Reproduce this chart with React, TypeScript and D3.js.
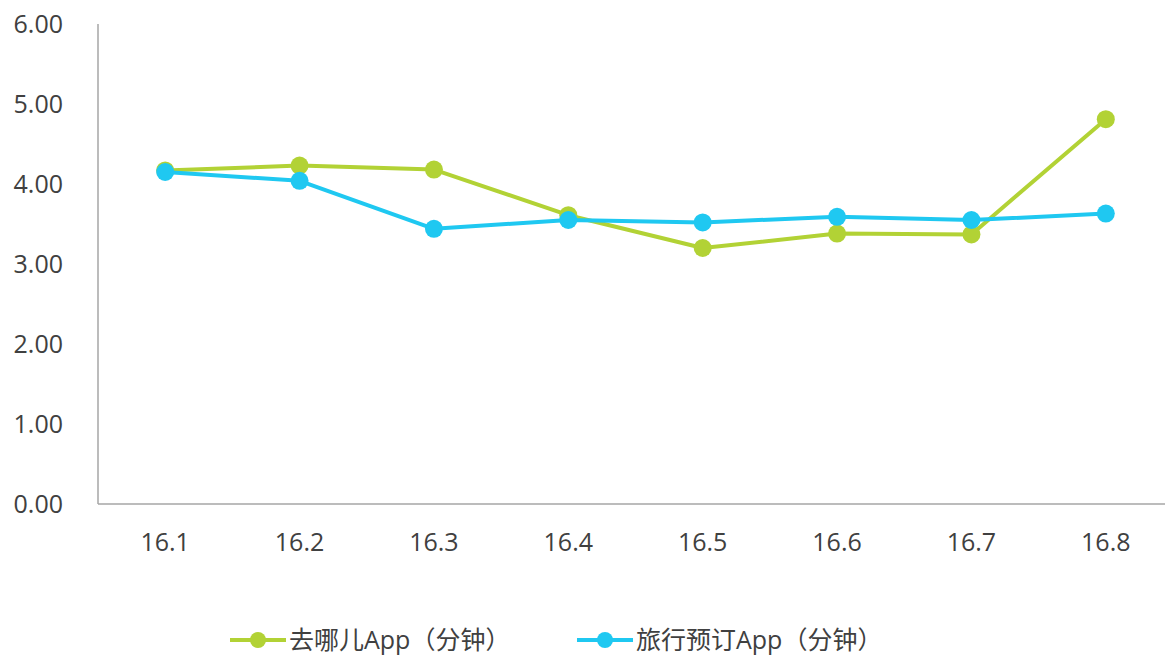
import React, { useEffect, useRef } from "react";
import * as d3 from "d3";

// months on the x axis
const months = ["16.1", "16.2", "16.3", "16.4", "16.5", "16.6", "16.7", "16.8"];
// average use time per session, minutes
const qunarValues = [4.17, 4.23, 4.18, 3.61, 3.2, 3.38, 3.37, 4.81];
const travelValues = [4.15, 4.04, 3.44, 3.55, 3.52, 3.59, 3.55, 3.63];
const yTicks = [0, 1, 2, 3, 4, 5, 6];
const seriesNames = ["去哪儿App（分钟）", "旅行预订App（分钟）"];
const seriesColors = ["#b2d235", "#1fc8f1"];

const App = () => {
  const ref = useRef<SVGSVGElement>(null);

  useEffect(() => {
    const width = 1165,
      height = 656;
    const svg = d3.select(ref.current);
    svg.selectAll("*").remove();

    const font = '"Open Sans", "Noto Sans CJK SC", sans-serif';
    const textColor = "#404040";

    const x = d3.scaleBand().domain(months).range([98, 1173]);
    const y = d3.scaleLinear().domain([0, 6]).range([504, 24]);

    // y labels
    svg
      .selectAll(".ylab")
      .data(yTicks)
      .join("text")
      .attr("class", "ylab")
      .attr("x", 63)
      .attr("y", (d) => y(d))
      .attr("dy", "0.36em")
      .attr("text-anchor", "end")
      .attr("font-family", font)
      .attr("font-size", 25)
      .attr("fill", textColor)
      .text((d) => d3.format(".2f")(d));

    // x labels
    svg
      .selectAll(".xlab")
      .data(months)
      .join("text")
      .attr("class", "xlab")
      .attr("x", (d) => x(d)! + x.bandwidth() / 2)
      .attr("y", 551)
      .attr("text-anchor", "middle")
      .attr("font-family", font)
      .attr("font-size", 25)
      .attr("fill", textColor)
      .text((d) => d);

    // axes lines
    svg
      .append("line")
      .attr("x1", 98)
      .attr("x2", 98)
      .attr("y1", y(6))
      .attr("y2", y(0))
      .attr("stroke", "#a6a6a6")
      .attr("stroke-width", 1.5);
    svg
      .append("line")
      .attr("x1", 98)
      .attr("x2", width)
      .attr("y1", y(0))
      .attr("y2", y(0))
      .attr("stroke", "#a6a6a6")
      .attr("stroke-width", 1.5);

    const cx = (i: number) => x(months[i])! + x.bandwidth() / 2;
    const line = d3
      .line<number>()
      .x((_, i) => cx(i))
      .y((d) => y(d));

    [qunarValues, travelValues].forEach((vals, k) => {
      svg
        .append("path")
        .attr("d", line(vals))
        .attr("fill", "none")
        .attr("stroke", seriesColors[k])
        .attr("stroke-width", 4)
        .attr("stroke-linejoin", "round");
      svg
        .selectAll(".pt" + k)
        .data(vals)
        .join("circle")
        .attr("class", "pt" + k)
        .attr("cx", (_, i) => cx(i))
        .attr("cy", (d) => y(d))
        .attr("r", 9)
        .attr("fill", seriesColors[k]);
    });

    // legend
    const legendX = [230, 577];
    const ly = 640;
    seriesNames.forEach((name, k) => {
      const g = svg.append("g").attr("transform", `translate(${legendX[k]},${ly})`);
      g.append("line")
        .attr("x1", 0)
        .attr("x2", 56)
        .attr("y1", 0)
        .attr("y2", 0)
        .attr("stroke", seriesColors[k])
        .attr("stroke-width", 4);
      g.append("circle").attr("cx", 28).attr("r", 8).attr("fill", seriesColors[k]);
      g.append("text")
        .attr("x", 59)
        .attr("y", 0)
        .attr("dy", "0.36em")
        .attr("font-family", font)
        .attr("font-size", 25)
        .attr("fill", textColor)
        .text(name);
    });

    svg.attr("width", width).attr("height", height);
  }, []);

  return (
    <svg
      ref={ref}
      width={1165}
      height={656}
      style={{ position: "absolute", left: 0, top: 0, background: "#fff" }}
    />
  );
};

export default App;
